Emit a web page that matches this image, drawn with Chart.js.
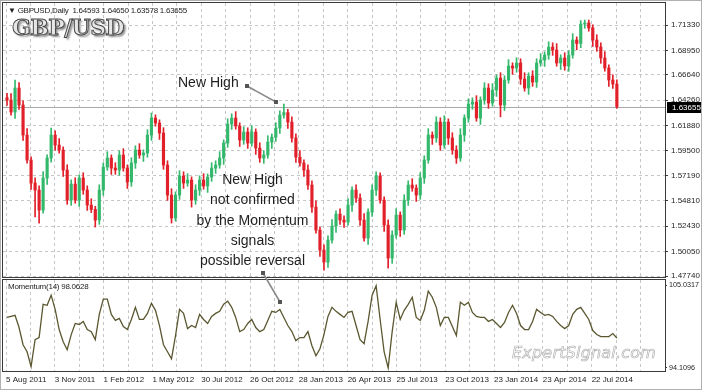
<!DOCTYPE html>
<html>
<head>
<meta charset="utf-8">
<script src="https://cdn.jsdelivr.net/npm/chart.js@4.4.1/dist/chart.umd.min.js"></script>
<style>
html, body { margin: 0; padding: 0; background: #fff; }
#wrap { position: relative; width: 702px; height: 390px; overflow: hidden; background: #fff;
        font-family: "Liberation Sans", Arial, sans-serif; }
#price { position: absolute; left: 0; top: 0; }
#mom { position: absolute; left: 0; top: 278px; }
.t { position: absolute; white-space: nowrap; color: #1e1e1e; z-index: 2; }
.small { font-size: 8px; line-height: 10px; letter-spacing: -0.25px; }
.note { font-size: 14px; line-height: 20.3px; text-align: center; }
#logo { left: 12px; top: 14px; font: bold 22px "DejaVu Serif", serif; color: #e6e6e6;
        -webkit-text-stroke: 1px #4a4a4a; text-shadow: 2px 2px 2px #8a8a8a; letter-spacing: -0.6px; }
#wm { left: 512px; top: 343px; font: italic 16px "DejaVu Sans", sans-serif; color: rgba(255,255,255,0);
      -webkit-text-stroke: 0.7px #b4b4b4; letter-spacing: 0.2px; }
#arrows { position: absolute; left: 0; top: 0; z-index: 3; }
#outer { position: absolute; left: 0; top: 0; width: 700px; height: 388px; border: 1px solid #b0b0b0; z-index: 4; pointer-events: none; }
</style>
</head>
<body>
<div id="wrap">
  <canvas id="price" width="702" height="279"></canvas>
  <canvas id="mom" width="702" height="112"></canvas>

  <div class="t small" style="left:8px;top:6px;">&#9660; GBPUSD,Daily&nbsp; 1.64593 1.64650 1.63578 1.63655</div>
  <div class="t" id="logo">GBP/USD</div>
  <div class="t note" style="left:178px;top:72px;">New High</div>
  <div class="t note" style="left:192px;top:169px;width:121px;">New High<br>not confirmed<br>by the Momentum<br>signals<br>possible reversal</div>
  <div class="t small" style="left:8px;top:282px;">Momentum(14) 98.0628</div>
  <div class="t" id="wm">ExpertSignal.com</div>

  <svg id="arrows" width="702" height="390">
    <g stroke="#8c8c8c" stroke-width="1.6">
      <line x1="247" y1="86" x2="276" y2="102"/>
      <line x1="263" y1="273" x2="280" y2="302"/>
    </g>
    <g fill="#555">
      <rect x="245" y="84" width="4" height="4"/>
      <rect x="274" y="100" width="4" height="4"/>
      <rect x="261" y="271" width="4" height="4"/>
      <rect x="278" y="300" width="4" height="4"/>
    </g>
  </svg>
  <div id="outer"></div>
</div>

<script>
// GBPUSD daily, one candle per ~5 trading days
const opens = [1.6450,1.6428,1.6315,1.6541,1.6381,1.6099,1.5864,1.5648,1.5582,1.5394,
  1.5695,1.5883,1.6099,1.6005,1.5958,1.5770,1.5488,1.5638,1.5488,1.5695,
  1.5582,1.5441,1.5400,1.5300,1.5582,1.5798,1.5883,1.5789,1.5770,1.5911,
  1.5789,1.5657,1.5836,1.5958,1.5911,1.5930,1.6099,1.6259,1.6212,1.6118,
  1.5817,1.5535,1.5319,1.5535,1.5714,1.5648,1.5676,1.5488,1.5582,1.5676,
  1.5620,1.5704,1.5789,1.5817,1.5883,1.6024,1.6202,1.6259,1.6184,1.6052,
  1.6127,1.6024,1.6127,1.5977,1.5883,1.5911,1.6033,1.6080,1.6165,1.6287,
  1.6310,1.6221,1.6071,1.5892,1.5836,1.5770,1.5629,1.5422,1.5206,1.5018,
  1.4905,1.5112,1.5244,1.5356,1.5300,1.5281,1.5441,1.5582,1.5507,1.5300,
  1.5131,1.5375,1.5582,1.5714,1.5488,1.5253,1.4943,1.5159,1.5347,1.5206,
  1.5488,1.5629,1.5601,1.5535,1.5695,1.5864,1.6099,1.6071,1.6221,1.6005,
  1.6221,1.6071,1.5958,1.5883,1.6099,1.6259,1.6390,1.6409,1.6259,1.6428,
  1.6541,1.6400,1.6522,1.6635,1.6381,1.6616,1.6748,1.6729,1.6776,1.6625,
  1.6541,1.6654,1.6597,1.6776,1.6804,1.6851,1.6926,1.6898,1.6776,1.6823,
  1.6748,1.6851,1.6992,1.6960,1.7142,1.7152,1.7105,1.6992,1.6926,1.6823,
  1.6729,1.6616,1.6578];

const highs = [1.6490,1.6488,1.6615,1.6591,1.6421,1.6159,1.5894,1.5698,1.5622,1.5755,
  1.5913,1.6165,1.6139,1.6065,1.5988,1.5820,1.5678,1.5698,1.5725,1.5745,
  1.5622,1.5501,1.5430,1.5632,1.5838,1.5943,1.5913,1.5839,1.5951,1.5971,
  1.5819,1.5886,1.5998,1.6018,1.5960,1.6149,1.6306,1.6289,1.6242,1.6168,
  1.5857,1.5595,1.5565,1.5764,1.5754,1.5736,1.5706,1.5632,1.5716,1.5736,
  1.5734,1.5839,1.5857,1.5943,1.6054,1.6252,1.6299,1.6319,1.6214,1.6177,
  1.6167,1.6187,1.6157,1.6027,1.5951,1.6093,1.6110,1.6215,1.6327,1.6390,
  1.6340,1.6271,1.6111,1.5952,1.5866,1.5820,1.5669,1.5482,1.5236,1.5068,
  1.5152,1.5304,1.5386,1.5406,1.5340,1.5501,1.5612,1.5632,1.5547,1.5360,
  1.5405,1.5632,1.5754,1.5744,1.5518,1.5303,1.5199,1.5407,1.5377,1.5538,
  1.5669,1.5689,1.5631,1.5745,1.5904,1.6159,1.6129,1.6271,1.6261,1.6281,
  1.6251,1.6121,1.5998,1.6159,1.6289,1.6440,1.6449,1.6469,1.6458,1.6591,
  1.6581,1.6582,1.6665,1.6685,1.6656,1.6808,1.6778,1.6826,1.6816,1.6685,
  1.6684,1.6704,1.6816,1.6864,1.6881,1.6976,1.6966,1.6958,1.6853,1.6873,
  1.6891,1.7052,1.7022,1.7175,1.7180,1.7180,1.7135,1.7042,1.6966,1.6883,
  1.6759,1.6666,1.6618];

const lows = [1.6378,1.6285,1.6255,1.6341,1.6049,1.5834,1.5588,1.5330,1.5272,1.5364,
  1.5635,1.5843,1.5955,1.5928,1.5710,1.5448,1.5438,1.5458,1.5428,1.5542,
  1.5391,1.5370,1.5234,1.5260,1.5532,1.5768,1.5729,1.5730,1.5720,1.5759,
  1.5597,1.5617,1.5786,1.5881,1.5851,1.5890,1.6049,1.6182,1.6058,1.5777,
  1.5485,1.5272,1.5290,1.5495,1.5598,1.5618,1.5422,1.5448,1.5532,1.5590,
  1.5560,1.5664,1.5739,1.5787,1.5823,1.5984,1.6152,1.6154,1.5992,1.6012,
  1.5974,1.5994,1.5917,1.5843,1.5833,1.5881,1.5973,1.6040,1.6115,1.6257,
  1.6161,1.6031,1.5842,1.5806,1.5710,1.5589,1.5372,1.5176,1.4958,1.4830,
  1.4855,1.5082,1.5184,1.5260,1.5231,1.5251,1.5381,1.5467,1.5250,1.5101,
  1.5071,1.5335,1.5532,1.5458,1.5193,1.4849,1.4893,1.5129,1.5146,1.5166,
  1.5438,1.5571,1.5475,1.5495,1.5645,1.5834,1.6011,1.6031,1.5955,1.5975,
  1.6011,1.5918,1.5833,1.5853,1.6039,1.6219,1.6340,1.6229,1.6199,1.6388,
  1.6350,1.6370,1.6462,1.6270,1.6331,1.6586,1.6669,1.6689,1.6575,1.6511,
  1.6481,1.6557,1.6547,1.6746,1.6744,1.6811,1.6848,1.6746,1.6716,1.6708,
  1.6698,1.6821,1.6900,1.6920,1.7102,1.7075,1.6932,1.6886,1.6773,1.6699,
  1.6556,1.6538,1.6350];

const closes = [1.6428,1.6315,1.6541,1.6381,1.6099,1.5864,1.5648,1.5582,1.5394,1.5695,
  1.5883,1.6099,1.6005,1.5958,1.5770,1.5488,1.5638,1.5488,1.5695,1.5582,
  1.5441,1.5400,1.5300,1.5582,1.5798,1.5883,1.5789,1.5770,1.5911,1.5789,
  1.5657,1.5836,1.5958,1.5911,1.5930,1.6099,1.6259,1.6212,1.6118,1.5817,
  1.5535,1.5319,1.5535,1.5714,1.5648,1.5676,1.5488,1.5582,1.5676,1.5620,
  1.5704,1.5789,1.5817,1.5883,1.6024,1.6202,1.6259,1.6184,1.6052,1.6127,
  1.6024,1.6127,1.5977,1.5883,1.5911,1.6033,1.6080,1.6165,1.6287,1.6310,
  1.6221,1.6071,1.5892,1.5836,1.5770,1.5629,1.5422,1.5206,1.5018,1.4905,
  1.5112,1.5244,1.5356,1.5300,1.5281,1.5441,1.5582,1.5507,1.5300,1.5131,
  1.5375,1.5582,1.5714,1.5488,1.5253,1.4943,1.5159,1.5347,1.5206,1.5488,
  1.5629,1.5601,1.5535,1.5695,1.5864,1.6099,1.6071,1.6221,1.6005,1.6221,
  1.6071,1.5958,1.5883,1.6099,1.6259,1.6390,1.6409,1.6259,1.6428,1.6541,
  1.6400,1.6522,1.6635,1.6381,1.6616,1.6748,1.6729,1.6776,1.6625,1.6541,
  1.6654,1.6597,1.6776,1.6804,1.6851,1.6926,1.6898,1.6776,1.6823,1.6748,
  1.6851,1.6992,1.6960,1.7142,1.7152,1.7105,1.6992,1.6926,1.6823,1.6729,
  1.6616,1.6578,1.63655];

// Momentum(14), same candle grid
const momentum = [100.77,100.90,101.04,99.44,97.17,96.24,94.30,97.84,98.11,102.50,
  102.37,103.70,101.83,99.17,97.57,96.51,98.51,99.97,99.84,100.24,
  99.17,98.90,97.84,101.17,103.17,103.17,101.17,100.37,100.64,99.57,
  99.17,100.50,102.10,100.50,100.50,101.30,102.63,101.70,99.70,97.17,
  96.24,95.30,98.37,101.83,101.30,99.30,99.70,99.44,101.17,100.50,
  99.97,100.90,101.30,101.57,102.50,102.90,102.10,100.77,98.90,99.17,
  99.97,100.50,99.44,98.90,99.17,100.37,101.57,101.43,101.83,100.77,
  99.70,98.90,97.71,98.11,98.11,98.90,97.04,95.71,96.64,98.51,
  100.90,102.10,101.57,101.17,100.77,101.43,101.57,99.70,97.84,97.31,
  100.24,103.70,104.95,100.50,96.24,94.11,98.90,102.77,100.50,101.70,
  102.50,103.43,100.77,100.37,101.70,104.23,103.43,102.10,99.70,100.77,
  100.77,99.57,98.37,102.77,102.37,102.77,101.43,100.90,100.77,100.77,
  100.24,100.50,99.97,99.44,100.10,101.43,102.37,101.30,99.70,99.17,
  99.17,100.24,101.83,101.43,101.04,101.17,100.90,100.24,99.70,99.30,
  99.70,101.17,101.83,102.10,101.30,100.50,99.04,98.51,98.24,98.24,
  98.24,98.64,98.06];

const priceTicks = [1.47740, 1.50050, 1.52430, 1.54810, 1.57190, 1.59500, 1.61880, 1.64260, 1.66640, 1.68950, 1.71330];
const momTicks = [94.1096, 105.0317];
const dateLabels = ['5 Aug 2011', '3 Nov 2011', '1 Feb 2012', '1 May 2012', '30 Jul 2012', '26 Oct 2012',
  '28 Jan 2013', '26 Apr 2013', '25 Jul 2013', '23 Oct 2013', '23 Jan 2014', '23 Apr 2014', '22 Jul 2014'];

// vertical grid: every half label step, labels on even lines
const gridStep = 6.082;
const xGrid = [];
for (let k = 0; k <= 26; k++) xGrid.push(-0.25 + gridStep * k);

const GREEN = '#34b86c';
const RED = '#e2202a';
const GRID = '#c6c6c6';
const FRAME = '#3a3a3a';
const axisFont = { family: 'Liberation Sans', size: 8 };

function candleColor(i) {
    return closes[i] >= opens[i] ? GREEN : RED;
}

const framePlugin = {
    id: 'frame',
    afterDraw(chart) {
        const { ctx, chartArea: a } = chart;
        ctx.save();
        ctx.strokeStyle = FRAME;
        ctx.lineWidth = 1;
        ctx.strokeRect(a.left - 0.5, a.top - 0.5, a.right - a.left + 1, a.bottom - a.top + 1);
        ctx.restore();
    }
};

const lastPricePlugin = {
    id: 'lastPrice',
    beforeDatasetsDraw(chart) {
        const { ctx, chartArea: a } = chart;
        const y = Math.round(chart.scales.y.getPixelForValue(closes[closes.length - 1])) + 0.5;
        ctx.save();
        ctx.strokeStyle = '#a8a8a8';
        ctx.lineWidth = 1;
        ctx.beginPath();
        ctx.moveTo(a.left, y);
        ctx.lineTo(a.right, y);
        ctx.stroke();
        ctx.restore();
    },
    afterDraw(chart) {
        const { ctx, chartArea: a } = chart;
        const last = closes[closes.length - 1];
        const y = Math.round(chart.scales.y.getPixelForValue(last));
        ctx.save();
        ctx.fillStyle = '#000';
        ctx.fillRect(a.right + 2, y - 5, 702 - a.right - 2, 11);
        ctx.fillStyle = '#fff';
        ctx.font = '8px "Liberation Sans"';
        ctx.textBaseline = 'middle';
        ctx.fillText(last.toFixed(5), a.right + 7, y + 0.5);
        ctx.restore();
    }
};

function fixPadding(scale) {
    scale.paddingTop = 0;
    scale.paddingBottom = 0;
    scale.paddingLeft = 0;
    scale.paddingRight = 0;
}

function xScale(showLabels) {
    return {
        type: 'linear',
        min: -1,
        max: 164,
        offset: false,
        afterBuildTicks: s => { s.ticks = xGrid.map(v => ({ value: v })); },
        afterFit: s => { s.height = showLabels ? 19 : 0; fixPadding(s); },
        grid: { color: GRID, offset: false, drawTicks: false },
        border: { display: false, dash: [3, 3] },
        ticks: {
            display: showLabels,
            autoSkip: false,
            maxRotation: 0,
            align: 'start',
            padding: 4,
            color: '#1e1e1e',
            font: axisFont,
            callback: (v, i) => (i % 2 === 0 ? (dateLabels[i / 2] || '') : '')
        }
    };
}

new Chart(document.getElementById('price'), {
    type: 'bar',
    data: {
        datasets: [
            {
                label: 'range',
                data: highs.map((h, i) => ({ x: i, y: [lows[i], h] })),
                backgroundColor: c => candleColor(c.dataIndex),
                barThickness: 1,
                grouped: false,
                order: 2
            },
            {
                label: 'body',
                data: opens.map((o, i) => ({ x: i, y: [o, closes[i]] })),
                backgroundColor: c => candleColor(c.dataIndex),
                barThickness: 2.5,
                minBarLength: 1,
                grouped: false,
                order: 1
            }
        ]
    },
    options: {
        responsive: false,
        animation: false,
        layout: { padding: { left: 3, top: 3, right: 0, bottom: 2 } },
        plugins: { legend: { display: false }, tooltip: { enabled: false } },
        scales: {
            x: xScale(false),
            y: {
                position: 'right',
                min: 1.4765,
                max: 1.7340,
                beginAtZero: false,
                afterBuildTicks: s => { s.ticks = priceTicks.map(v => ({ value: v })); },
                afterFit: s => { s.width = 37; fixPadding(s); },
                grid: { color: GRID, drawTicks: true, tickLength: 3, tickColor: FRAME },
                border: { display: false, dash: [3, 3] },
                ticks: { padding: 3, color: '#1e1e1e', font: axisFont, callback: v => v.toFixed(5) }
            }
        }
    },
    plugins: [lastPricePlugin, framePlugin]
});

new Chart(document.getElementById('mom'), {
    type: 'line',
    data: {
        datasets: [{
            label: 'Momentum(14)',
            data: momentum.map((m, i) => ({ x: i, y: m })),
            borderColor: '#5a5730',
            borderWidth: 1.3,
            pointRadius: 0,
            tension: 0
        }]
    },
    options: {
        responsive: false,
        animation: false,
        layout: { padding: { left: 3, top: 2, right: 0, bottom: 0 } },
        plugins: { legend: { display: false }, tooltip: { enabled: false } },
        scales: {
            x: xScale(true),
            y: {
                position: 'right',
                min: 93.71,
                max: 105.70,
                afterBuildTicks: s => { s.ticks = momTicks.map(v => ({ value: v })); },
                afterFit: s => { s.width = 37; fixPadding(s); },
                grid: { drawOnChartArea: false, drawTicks: true, tickLength: 2, tickColor: FRAME },
                border: { display: false },
                ticks: { padding: 2, color: '#1e1e1e', font: { family: 'Liberation Sans', size: 7.2 }, callback: v => v.toFixed(4) }
            }
        }
    },
    plugins: [framePlugin]
});
</script>
</body>
</html>
